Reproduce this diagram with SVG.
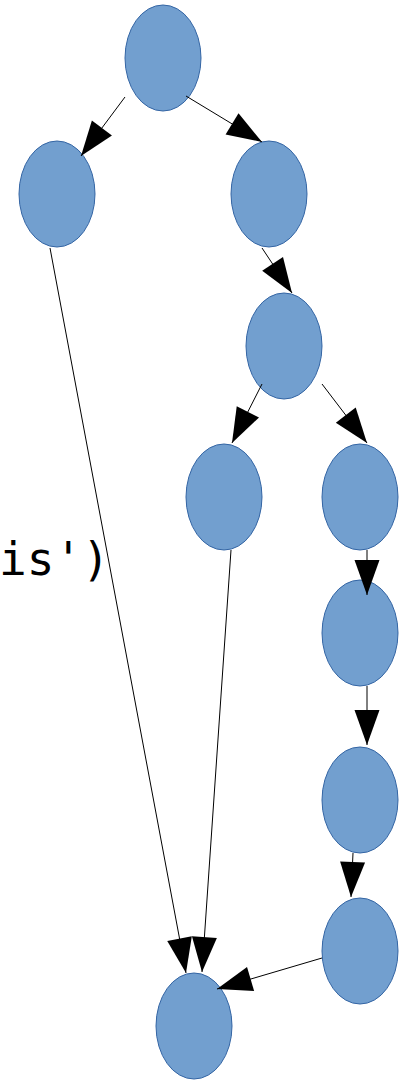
<svg xmlns="http://www.w3.org/2000/svg" width="401" height="1080" viewBox="0 0 401 1080">
<style>
.n{fill:#729fcf;stroke:#3465a4;stroke-width:1}
.e{stroke:#000;stroke-width:1;fill:none;marker-end:url(#a)}
.t{font-family:"DejaVu Sans Mono",monospace;font-size:46px;fill:#000}
</style>
<defs>
<marker id="a" markerUnits="userSpaceOnUse" markerWidth="38" markerHeight="28" refX="35" refY="12.5" orient="auto" overflow="visible">
<path d="M0,0 L35,12.5 L0,25 Z" fill="#000"/>
</marker>
</defs>
<rect width="401" height="1080" fill="#fff"/>
<text class="t" x="-1" y="575">is')</text>
<g id="n1"><ellipse class="n" cx="163" cy="58" rx="38" ry="53"/></g>
<g id="n2"><ellipse class="n" cx="57" cy="194" rx="38" ry="53"/></g>
<g id="n3"><ellipse class="n" cx="269" cy="194" rx="38" ry="53"/></g>
<g id="n4"><ellipse class="n" cx="284" cy="346" rx="38" ry="53"/></g>
<g id="n5"><ellipse class="n" cx="224" cy="497" rx="38" ry="53"/></g>
<g id="n6"><ellipse class="n" cx="360" cy="497" rx="38" ry="53"/></g>
<g id="n7"><ellipse class="n" cx="360" cy="633" rx="38" ry="53"/></g>
<g id="n8"><ellipse class="n" cx="360" cy="800" rx="38" ry="53"/></g>
<g id="n9"><ellipse class="n" cx="360" cy="951" rx="38" ry="53"/></g>
<g id="n10"><ellipse class="n" cx="194" cy="1026" rx="38" ry="53"/></g>
<g id="edges">
<line class="e" x1="125" y1="97" x2="81" y2="156"/>
<line class="e" x1="186" y1="96" x2="262" y2="142"/>
<line class="e" x1="262" y1="248" x2="292" y2="293"/>
<line class="e" x1="262" y1="384" x2="232" y2="443"/>
<line class="e" x1="322" y1="384" x2="367" y2="443"/>
<line class="e" x1="367" y1="550" x2="367" y2="595"/>
<line class="e" x1="367" y1="686" x2="367" y2="745"/>
<line class="e" x1="353" y1="853" x2="351" y2="897"/>
<line class="e" x1="322" y1="958" x2="217" y2="989"/>
<line class="e" x1="50" y1="248" x2="186" y2="973"/>
<line class="e" x1="231" y1="550" x2="202" y2="972"/>
</g>
</svg>
